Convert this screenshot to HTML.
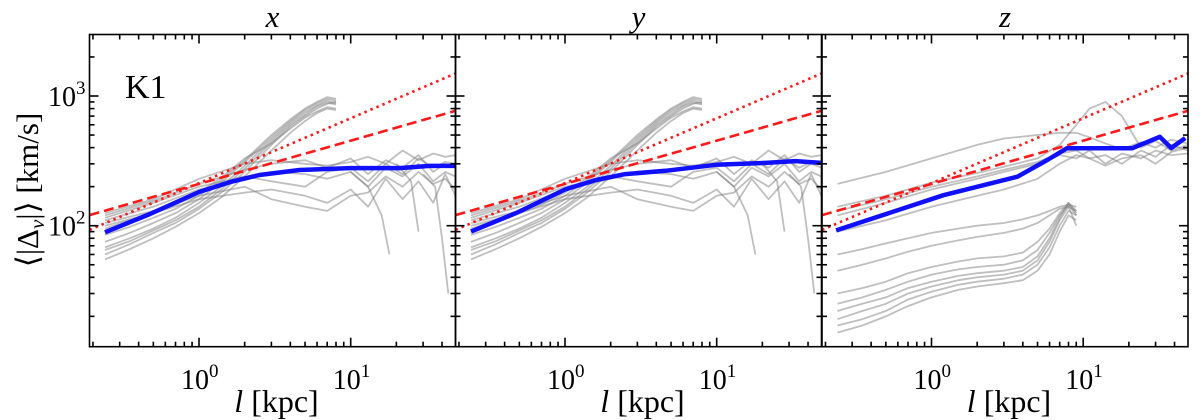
<!DOCTYPE html>
<html><head><meta charset="utf-8"><style>
html,body{margin:0;padding:0;background:#fff;}
svg{display:block;font-family:"Liberation Serif",serif;}
</style></head><body>
<svg id="chart" width="1200" height="420" viewBox="0 0 1200 420" xmlns="http://www.w3.org/2000/svg"></svg>
<script>
// ---- data ----
const panelTitles = ["x","y","z"];
const xTickLabels = ["0","1"];
const yTickLabels = ["2","3"];
const refSlopes = [1/3, 1/2];          // dashed, dotted
const refAmps = [210, 213];            // value at l=1 kpc
const blueL = [[0.24,0.475,1,1.6,2.5,4.6,9.9,21,33,49],[0.24,0.475,1,1.6,2.5,4.6,9.9,21,33,49],[0.235,1.2,3.7,5.8,7.8,21,32,38,47]];
const blueV = [[89,123,182,217,246,269,278,278,289,289],[90,125,190,225,250,265,295,305,315,305],[92,172,239,321,395,395,485,397,474]];
const riseL = [0.24,0.35,0.5,0.7,1,1.4,2,3,4,5,6,7,8];
const riseV = [
 [60,72,88,105,135,180,260,420,580,700,800,870,900],
 [68,80,95,115,150,200,290,460,620,750,850,920,880],
 [75,88,105,125,160,215,310,480,640,780,880,950,920],
 [85,98,115,135,170,225,320,500,660,800,900,980,950],
 [95,110,125,145,180,235,330,430,560,680,760,820,800],
 [55,66,80,98,125,165,240,380,520,640,740,800,780],
 [65,76,92,110,140,190,275,440,600,720,830,890,860]
];
const flatL = [0.24,0.5,1,2,3,5,7,10,13,17,22,28,35,42,49];
const flatV = [
 [110,140,190,230,260,250,230,260,200,280,240,300,220,260,240],
 [120,155,210,270,300,320,280,330,250,320,280,350,260,300,280],
 [100,125,160,180,190,170,150,190,140,230,160,220,150,250,170],
 [115,150,200,240,220,200,260,280,220,300,250,330,280,310,300],
 [105,130,170,200,160,140,130,170,180,240,200,260,210,230,190],
 [125,160,230,300,320,300,290,310,340,300,380,320,360,340,350]
];
const dropL = [[10,13,16,18],[30,36,40,44],[20,25,28]];
const dropV = [[260,200,120,60],[250,200,80,30],[300,220,90]];
const zLowL = [0.24,0.35,0.5,0.7,1,1.5,2,3,4,5,6,7,8,9];
const zLowV = [
 [15,17,20,24,28,32,34,36,38,45,60,90,120,110],
 [17,19,22,27,31,35,37,39,42,50,68,100,130,120],
 [19,22,25,30,34,38,40,42,45,54,75,110,140,100],
 [22,25,28,33,37,41,43,45,48,58,80,115,150,130],
 [25,28,32,37,42,46,48,50,54,65,88,120,145,120],
 [30,33,37,43,48,53,56,58,62,75,95,125,150,125],
 [45,50,56,63,70,77,82,88,95,105,120,135,140,130],
 [60,66,73,80,88,95,100,105,112,120,130,140,145,140]
];
const zUpL = [0.24,0.5,1,2,3,5,7,9,11,14,18,24,30,38,49];
const zUpV = [
 [130,160,200,240,270,310,360,380,330,350,300,380,340,420,380],
 [140,170,215,255,285,330,420,600,800,900,700,400,450,380,420],
 [210,260,330,420,470,500,520,520,480,430,390,440,400,460,430],
 [120,150,190,230,260,300,350,330,380,300,360,330,380,350,360],
 [90,110,140,170,190,230,300,350,330,290,330,350,300,370,400]
];
// ---- layout ----
const S="http://www.w3.org/2000/svg";
const svg=document.getElementById('chart');
const panelX=[89.5,455.5,822], PW=366, TOP=34.5, BOT=346.7;
const LX0=109.5, DEC=151.7;
const Y2=225.7, YDEC=129.7;
const lmin=Math.pow(10,-LX0/DEC), lmax=Math.pow(10,(PW-LX0)/DEC);
function xs(p,l){return panelX[p]+LX0+Math.log10(l)*DEC;}
function ys(v){return Y2-(Math.log10(v)-2)*YDEC;}
function el(t,a,parent){const e=document.createElementNS(S,t);for(const k in a)e.setAttribute(k,a[k]);(parent||svg).appendChild(e);return e;}
function poly(p,L,V,style,name){
  const pts=L.map((l,i)=>xs(p,l).toFixed(1)+','+ys(V[i]).toFixed(1)).join(' ');
  const e=el('polyline',Object.assign({points:pts,fill:'none'},style),groups[p]);
  
  
}
const groups=[];
const defs=el('defs',{});
for(let p=0;p<3;p++){
  const cp=el('clipPath',{id:'c'+p},defs);
  el('rect',{x:panelX[p],y:TOP,width:PW,height:BOT-TOP},cp);
  const g=el('g',{'clip-path':'url(#c'+p+')'});
  
  
  groups.push(g);
}
const grey={stroke:'#808080','stroke-width':1.8,'stroke-opacity':0.5,'stroke-linejoin':'round'};
for(let p=0;p<3;p++){
  if(p<2){
    riseV.forEach(v=>poly(p,riseL,v,grey,'grey-sim-line'));
    flatV.forEach(v=>poly(p,flatL,v,grey,'grey-sim-line'));
    dropV.forEach((v,i)=>poly(p,dropL[i],v,grey,'grey-sim-line'));
  } else {
    zLowV.forEach(v=>poly(p,zLowL,v,grey,'grey-sim-line'));
    zUpV.forEach(v=>poly(p,zUpL,v,grey,'grey-sim-line'));
  }
  const refL=[lmin,lmax];
  poly(p,refL,refL.map(l=>refAmps[0]*Math.pow(l,refSlopes[0])),{stroke:'#ff1a1a','stroke-width':2.6,'stroke-dasharray':'10,5'},'ref-dashed-line');
  poly(p,refL,refL.map(l=>refAmps[1]*Math.pow(l,refSlopes[1])),{stroke:'#ff1a1a','stroke-width':2.6,'stroke-dasharray':'2.5,4'},'ref-dotted-line');
  poly(p,blueL[p],blueV[p],{stroke:'#1010ff','stroke-width':4.5,'stroke-linejoin':'round'},'mean-blue-line');
}
// axes
const ax=el('g',{stroke:'#000','stroke-width':1.6,fill:'none'});


for(let p=0;p<3;p++){
  const x0=panelX[p],x1=x0+PW;
  el('rect',{x:x0,y:TOP,width:PW,height:BOT-TOP},ax);
  for(let d=-1;d<=1;d++)for(let m=1;m<10;m++){
    const l=m*Math.pow(10,d); if(l<lmin||l>lmax)continue;
    const x=xs(p,l),len=m==1?9:5;
    el('line',{x1:x,y1:BOT,x2:x,y2:BOT-len},ax);
    el('line',{x1:x,y1:TOP,x2:x,y2:TOP+len},ax);
  }
  for(let d=1;d<=3;d++)for(let m=1;m<10;m++){
    const v=m*Math.pow(10,d),y=ys(v); if(y<TOP||y>BOT)continue;
    const len=m==1?9:5;
    el('line',{x1:x0,y1:y,x2:x0+len,y2:y},ax);
    el('line',{x1:x1,y1:y,x2:x1-len,y2:y},ax);
  }
  xTickLabels.forEach((e,i)=>{
    const t=el('text',{x:xs(p,Math.pow(10,i))-18,y:389,'font-size':28,fill:'#000'});
    t.innerHTML='10<tspan dy="-12" font-size="19">'+e+'</tspan>';
    
    
  });
  const tt=el('text',{x:x0+PW/2,y:27,'font-size':31,'font-style':'italic','text-anchor':'middle'});
  tt.textContent=panelTitles[p];
  
  
  const xl=el('text',{x:x0+PW/2+4,y:412,'font-size':32,'text-anchor':'middle'});
  xl.innerHTML='<tspan font-style="italic">l</tspan> [kpc]';
  
  
}
yTickLabels.forEach((e,i)=>{
  const t=el('text',{x:48,y:ys(Math.pow(10,i+2))+10,'font-size':28});
  t.innerHTML='10<tspan dy="-12" font-size="19">'+e+'</tspan>';
  
  
});
const yl=el('text',{transform:'translate(38,190) rotate(-90)','font-size':31,'text-anchor':'middle'});
yl.innerHTML='⟨|Δ<tspan font-style="italic" font-size="21" dy="6">v</tspan><tspan dy="-6">|⟩ [km/s]</tspan>';


const k1=el('text',{x:125,y:98,'font-size':34});
k1.textContent='K1';


</script>
</body></html>
